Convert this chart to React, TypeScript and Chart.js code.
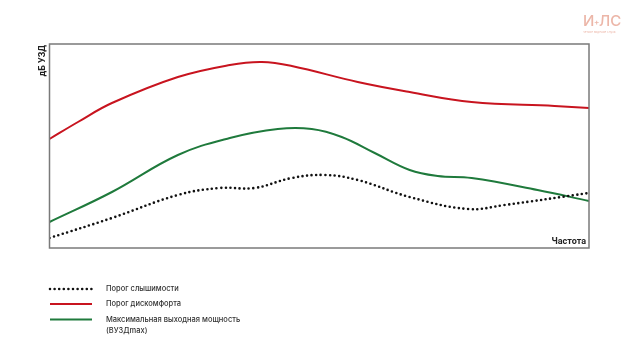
import React, { useEffect, useRef } from "react";
import { Chart, registerables } from "chart.js";

Chart.register(...registerables);

// Frequency positions (arbitrary units along the x axis) and levels (arbitrary dB units)
const hearingX = [0, 62.5, 128.5, 170, 205, 242.5, 275.5, 308.5, 360.5, 418.5, 455.5, 540];
const hearingY = [10, 30, 53, 60, 60, 70, 73, 68, 51, 39, 43, 55];

const discomfortX = [0, 28.5, 62.5, 128.5, 180.5, 212.5, 242.5, 308.5, 360.5, 422.5, 505.5, 540];
const discomfortY = [109, 126, 145, 171, 183, 186, 182, 166, 156, 146, 142, 140];

const maxOutputX = [0, 62.5, 128.5, 180.5, 228.5, 262.5, 292.5, 325.5, 360.5, 388.5, 422.5, 488.5, 540];
const maxOutputY = [26, 56, 93, 110, 119, 119, 111, 95, 78, 72, 70, 58, 47];

const seriesLabels = ["Порог слышимости", "Порог дискомфорта", "Максимальная выходная мощность", "(ВУЗДmax)"];
const yAxisTitle = "дБ УЗД";
const xAxisTitle = "Частота";

const toPoints = (xs: number[], ys: number[]) => xs.map((x, i) => ({ x, y: ys[i] }));

const decorPlugin = {
  id: "decor",
  afterDraw(chart: any) {
    const { ctx, chartArea } = chart;
    const { left, top, right, bottom } = chartArea;
    ctx.save();
    // frame
    ctx.strokeStyle = "#7a7a7a";
    ctx.lineWidth = 1.5;
    ctx.strokeRect(left, top, right - left, bottom - top);

    // y title
    ctx.fillStyle = "#222";
    ctx.font = "bold 9px Roboto, 'Liberation Sans', sans-serif";
    ctx.save();
    ctx.translate(left - 7, top + 1);
    ctx.rotate(-Math.PI / 2);
    ctx.textAlign = "right";
    ctx.textBaseline = "middle";
    ctx.fillText(yAxisTitle, 0, 0);
    ctx.restore();

    // x title inside box
    ctx.textAlign = "right";
    ctx.textBaseline = "alphabetic";
    ctx.fillText(xAxisTitle, right - 3, bottom - 4);

    // legend
    const ds = chart.data.datasets;
    const lx0 = 50, lx1 = 92, tx = 106;
    const rows = [289, 304, 319.5];
    ds.forEach((d: any, i: number) => {
      ctx.save();
      ctx.strokeStyle = d.borderColor;
      ctx.lineWidth = d.borderWidth;
      ctx.lineCap = d.borderCapStyle || "butt";
      ctx.setLineDash(d.borderDash || []);
      ctx.beginPath();
      ctx.moveTo(lx0, rows[i]);
      ctx.lineTo(lx1, rows[i]);
      ctx.stroke();
      ctx.restore();
    });
    ctx.fillStyle = "#333";
    ctx.font = "500 7.5px Inter, 'Open Sans', sans-serif";
    ctx.textAlign = "left";
    ctx.textBaseline = "middle";
    ctx.fillText(seriesLabels[0], tx, rows[0]);
    ctx.fillText(seriesLabels[1], tx, rows[1]);
    ctx.fillText(seriesLabels[2], tx, rows[2]);
    ctx.fillText(seriesLabels[3], tx, rows[2] + 11);

    // logo
    ctx.fillStyle = "#ecb6a8";
    ctx.font = "500 15px Inter, 'Open Sans', sans-serif";
    ctx.textAlign = "left";
    ctx.textBaseline = "alphabetic";
    ctx.fillText("И", 583, 26);
    ctx.font = "600 8px Inter, sans-serif";
    ctx.fillText("+", 594, 25);
    ctx.font = "500 15px Inter, 'Open Sans', sans-serif";
    ctx.fillText("ЛС", 599, 26);
    ctx.font = "3px Inter, sans-serif";
    ctx.fillText("четкое видение слуха", 583, 33);
    ctx.restore();
  },
};

export default function App() {
  const ref = useRef<HTMLCanvasElement>(null);
  useEffect(() => {
    if (!ref.current) return;
    const chart = new Chart(ref.current, {
      type: "line",
      data: {
        datasets: [
          {
            label: seriesLabels[0],
            data: toPoints(hearingX, hearingY),
            borderColor: "#111",
            borderWidth: 2.6,
            borderDash: [0, 4.6],
            borderCapStyle: "round",
            pointRadius: 0,
            tension: 0.4,
          },
          {
            label: seriesLabels[1],
            data: toPoints(discomfortX, discomfortY),
            borderColor: "#c8141f",
            borderWidth: 2,
            pointRadius: 0,
            tension: 0.4,
          },
          {
            label: seriesLabels[2],
            data: toPoints(maxOutputX, maxOutputY),
            borderColor: "#1f7a3c",
            borderWidth: 2,
            pointRadius: 0,
            tension: 0.4,
          },
        ] as any,
      },
      options: {
        responsive: false,
        animation: false,
        layout: { padding: { left: 49.5, top: 44, right: 51, bottom: 112 } },
        plugins: { legend: { display: false }, tooltip: { enabled: false } },
        scales: {
          x: { type: "linear", min: 0, max: 540, display: false },
          y: { type: "linear", min: 0, max: 204, display: false },
        },
      },
      plugins: [decorPlugin],
    });
    return () => chart.destroy();
  }, []);
  return (
    <div style={{ position: "absolute", left: 0, top: 0, width: 640, height: 360, background: "#fff" }}>
      <canvas ref={ref} width={640} height={360} style={{ display: "block" }} />
    </div>
  );
}
